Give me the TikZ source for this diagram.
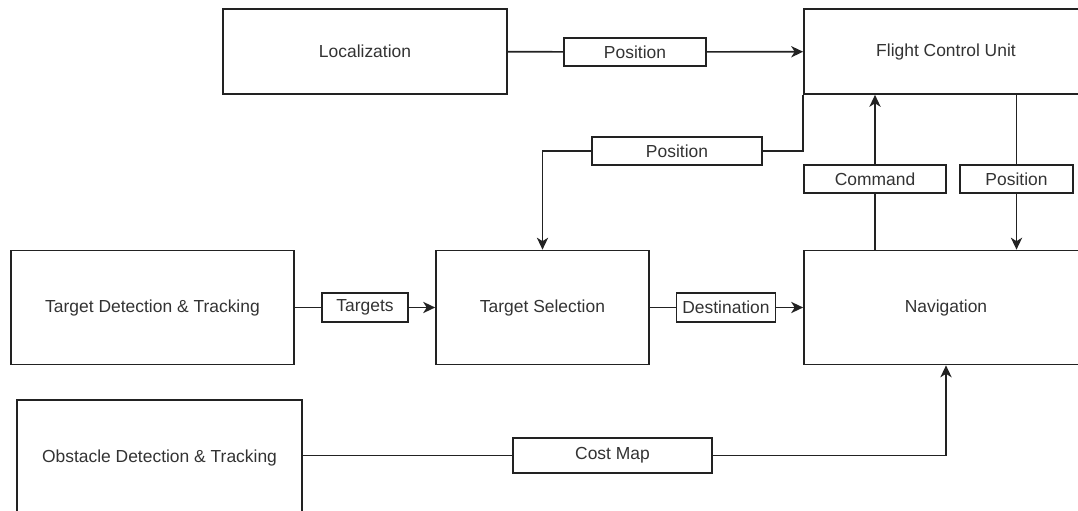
\documentclass[tikz,border=0pt]{standalone}
\usepackage{fontspec}
\setmainfont{Liberation Sans}
\usepackage{tikz}
\usetikzlibrary{arrows.meta}
\definecolor{linegray}{HTML}{222222}
\definecolor{textgray}{HTML}{333333}
\tikzset{
  blockbox/.style={draw=linegray, line width=1.2pt, text=textgray, inner sep=0pt,
    font=\fontsize{12.4pt}{14pt}\selectfont, minimum height=2.85cm},
  tagbox/.style={draw=linegray, line width=1.2pt, fill=white, text=textgray, inner sep=0pt,
    font=\fontsize{12.4pt}{14pt}\selectfont, minimum height=0.7cm},
  wire/.style={draw=linegray, line width=1.2pt},
  arr/.style={wire, -{Stealth[length=8.5pt,width=8pt,inset=2.5pt]}}
}

\begin{document}
\begin{tikzpicture}[x=0.025cm,y=-0.025cm]
\useasboundingbox (0,0) rectangle (1078,511);
\clip (0,0) rectangle (1078,511);
\fill[white] (0,0) rectangle (1078,511);
\node [blockbox, minimum width=7.1cm, minimum height=2.125cm] (loc) at (365,51.5) {Localization};
\node [blockbox, minimum width=7.1cm, minimum height=2.125cm] (fcu) at (946,51.5) {Flight Control Unit};
\node [blockbox, minimum width=7.075cm] (tdt) at (152.5,307.5) {Target Detection \& Tracking};
\node [blockbox, minimum width=5.325cm] (tsel) at (542.5,307.5) {Target Selection};
\node [blockbox, minimum width=7.1cm] (nav) at (946,307.5) {Navigation};
\node [blockbox, minimum width=7.125cm, minimum height=2.9cm] (odt) at (159.5,458) {Obstacle Detection \& Tracking};
\node [tagbox, minimum width=3.55cm] (posA) at (635,52) {Position};
\node [tagbox, minimum width=4.25cm] (posB) at (677,151) {Position};
\node [tagbox, minimum width=3.55cm] (cmd) at (875,179) {Command};
\node [tagbox, minimum width=2.825cm] (posC) at (1016.5,179) {Position};
\node [tagbox, minimum width=2.15cm, minimum height=0.725cm] (tgt) at (365,307.5) {Targets};
\node [tagbox, minimum width=2.475cm, minimum height=0.725cm] (dst) at (726,307.5) {Destination};
\node [tagbox, minimum width=4.975cm, minimum height=0.875cm] (cost) at (612.5,455.5) {Cost Map};
\draw [wire] (loc) -- (posA);
\draw [arr] (posA) -- (fcu);
\draw [wire] (fcu.south west) |- (posB);
\draw [arr] (posB) -| (tsel.north);
\draw [wire] (nav.north -| cmd) -- (cmd);
\draw [arr] (cmd) -- (cmd |- fcu.south);
\draw [wire] (posC |- fcu.south) -- (posC);
\draw [arr] (posC) -- (posC |- nav.north);
\draw [wire] (tdt) -- (tgt);
\draw [arr] (tgt) -- (tsel);
\draw [wire] (tsel) -- (dst);
\draw [arr] (dst) -- (nav);
\draw [wire] (odt.east |- cost) -- (cost);
\draw [arr] (cost) -| (nav.south);
%\draw [wire] (odt.east) -- (nav.south);
\end{tikzpicture}
\end{document}
